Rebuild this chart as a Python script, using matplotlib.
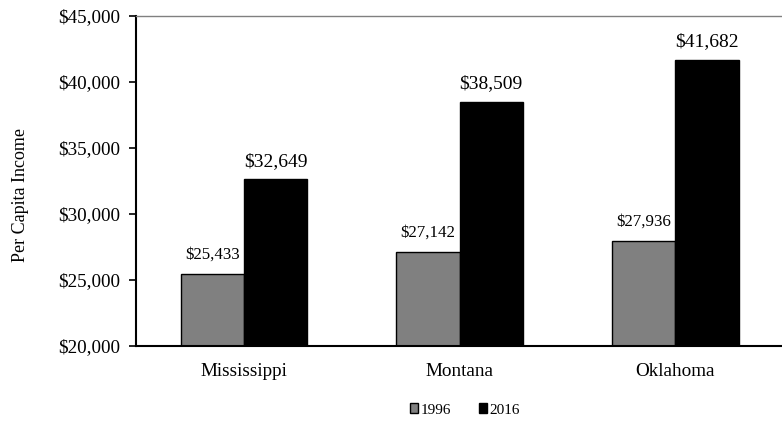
import matplotlib
matplotlib.use("Agg")
import matplotlib.pyplot as plt
import numpy as np
from matplotlib.ticker import FuncFormatter
from matplotlib.patches import Patch

plt.rcParams['font.family'] = ['Liberation Serif', 'DejaVu Serif']

states = ["Mississippi", "Montana", "Oklahoma"]
income_1996 = [25433, 27142, 27936]
income_2016 = [32649, 38509, 41682]
series_labels = ["1996", "2016"]
y_ticks = [20000, 25000, 30000, 35000, 40000, 45000]

fig = plt.figure(figsize=(7.82, 4.21), dpi=100)
ax = fig.add_axes([136/782, 1 - 346/421, 1 - 136/782 + 0.01, (346 - 16)/421])

x = np.arange(len(states))
w = 0.293
b1 = ax.bar(x - w/2, income_1996, w, color="#808080", edgecolor="black", linewidth=1.0)
b2 = ax.bar(x + w/2, income_2016, w, color="black", edgecolor="black", linewidth=1.0)

for rects, vals, fs, off in ((b1, income_1996, 12.2, 850), (b2, income_2016, 14, 700)):
    for r, v in zip(rects, vals):
        ax.text(r.get_x() + r.get_width()/2, v + off, f"${v:,}",
                ha="center", va="bottom", fontsize=fs)

ax.set_xlim(-0.5, len(states) - 0.5 + 0.03)
ax.set_ylim(20000, 45000)
ax.set_yticks(y_ticks)
ax.yaxis.set_major_formatter(FuncFormatter(lambda v, p: f"${int(v):,}"))
ax.set_xticks(x)
ax.set_xticklabels(states)
ax.tick_params(axis="both", labelsize=13.8)
ax.tick_params(axis="y", direction="out", length=5, width=1.2, pad=6.5)
ax.tick_params(axis="x", length=0, pad=12)

ax.spines["right"].set_visible(False)
ax.spines["top"].set_color("#808080")
ax.spines["top"].set_linewidth(1.0)
ax.spines["left"].set_linewidth(1.5)
ax.spines["bottom"].set_linewidth(1.5)

fig.text(21/782, 1 - 195/421, "Per Capita Income", rotation=90,
         ha="center", va="center", fontsize=13)

handles = [Patch(facecolor="#808080", edgecolor="black", linewidth=1.0),
           Patch(facecolor="black", edgecolor="black", linewidth=1.0)]
fig.legend(handles, series_labels, loc="center", bbox_to_anchor=(465/782, 1 - 410/421),
           ncol=2, frameon=False, fontsize=11, handlelength=0.55, handleheight=0.55,
           handletextpad=0.15, columnspacing=1.8)

fig.savefig("out.png", dpi=100)
